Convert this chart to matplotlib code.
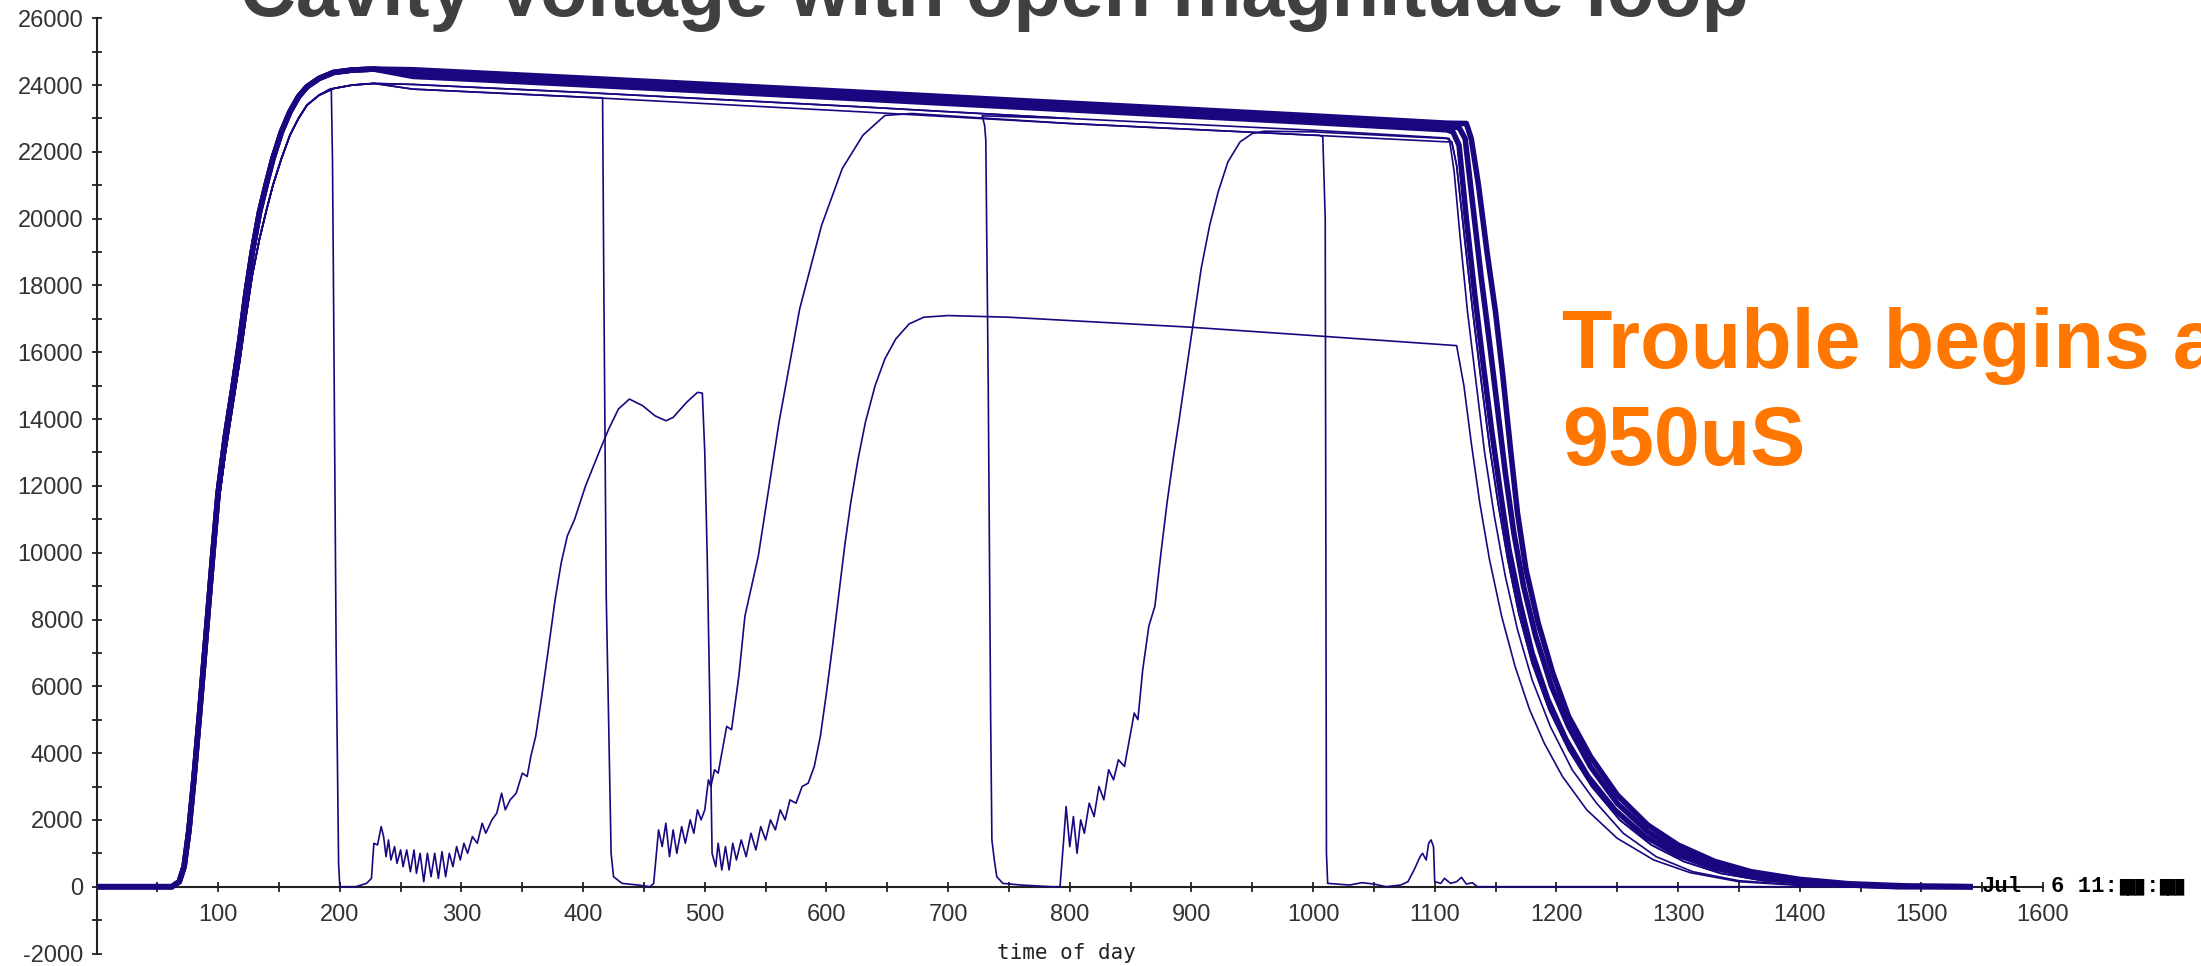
import matplotlib
matplotlib.use("Agg")
import matplotlib.pyplot as plt

plt.rcParams['font.family'] = ['Liberation Sans', 'DejaVu Sans']
plt.rcParams['axes.unicode_minus'] = False

# ---- data (x = time units, y = counts) ----
# common rise of the pulse
rise_x = [0, 62, 68, 72, 76, 80, 85, 90, 95, 100, 106, 112, 118, 123, 128, 134,
          140, 145, 152, 159, 166, 173, 183, 195, 210, 228]
rise_thick_y = [0, 0, 150, 600, 1700, 3200, 5300, 7500, 9700, 11800, 13500, 14900,
                16400, 17800, 19000, 20200, 21100, 21800, 22600, 23200, 23650, 23950,
                24200, 24380, 24450, 24480]
rise_thin_y = [0, 0, 120, 500, 1500, 2900, 5000, 7200, 9300, 11400, 13000, 14400,
               15800, 17100, 18300, 19400, 20300, 21000, 21800, 22500, 23000, 23400,
               23700, 23900, 24000, 24050]

# flat top of the thick bundle
band_x = [260, 400, 600, 800, 1000, 1110]
band1_y = [24460, 24210, 23840, 23460, 23080, 22860]
band2_y = [24360, 24110, 23740, 23360, 22980, 22760]
band3_y = [24260, 24010, 23640, 23260, 22880, 22660]

# the two thin lines under the bundle
levelA_x = [260, 400, 628, 800, 1000, 1108]
levelA_y = [24020, 23780, 23350, 23000, 22650, 22420]
levelB_x = [260, 400, 628, 800, 1000, 1108]
levelB_y = [23880, 23640, 23200, 22850, 22500, 22270]

# decays after the pulse
decay_r_x = [1126, 1130, 1136, 1143, 1150, 1156, 1162, 1168, 1175, 1185, 1197, 1210,
             1228, 1250, 1275, 1300, 1330, 1360, 1400, 1440, 1490, 1540]
decay_r_y = [22850, 22400, 21000, 19000, 17200, 15300, 13200, 11200, 9500, 7900, 6400,
             5100, 3900, 2750, 1850, 1250, 760, 450, 220, 90, 20, 0]
decay_m_x = [1120, 1125, 1131, 1138, 1145, 1152, 1158, 1165, 1173, 1183, 1196, 1210,
             1228, 1250, 1275, 1300, 1330, 1360, 1400, 1440, 1480, 1540]
decay_m_y = [22730, 22400, 20500, 18300, 16300, 14200, 12400, 10600, 9000, 7500, 6000,
             4800, 3600, 2500, 1650, 1100, 650, 380, 180, 60, 10, 0]
decay_l_x = [1115, 1120, 1126, 1133, 1140, 1147, 1154, 1161, 1170, 1180, 1193, 1208,
             1226, 1248, 1273, 1300, 1330, 1360, 1400, 1440, 1480, 1540]
decay_l_y = [22600, 22200, 20000, 17700, 15600, 13600, 11800, 10100, 8500, 7000, 5600,
             4400, 3300, 2300, 1500, 950, 560, 320, 140, 50, 0, 0]
decay_thin_x = [1112, 1116, 1121, 1127, 1134, 1141, 1149, 1158, 1168, 1180, 1195, 1213,
                1233, 1255, 1282, 1312, 1350, 1400, 1450, 1540]
decay_thin_y = [22400, 21400, 19400, 17200, 15100, 13000, 11100, 9300, 7700, 6200, 4800,
                3500, 2500, 1600, 900, 450, 180, 50, 0, 0]
decay_t6_x = [1114, 1118, 1124, 1131, 1138, 1145, 1152, 1160, 1169, 1180, 1194, 1210,
              1229, 1252, 1278, 1305, 1335, 1370, 1420, 1470, 1540]
decay_t6_y = [22300, 21600, 19600, 17300, 15200, 13200, 11500, 9800, 8200, 6700, 5300,
              4100, 3000, 2000, 1250, 750, 400, 180, 50, 0, 0]
decay_low_x = [1118, 1124, 1130, 1137, 1145, 1155, 1166, 1178, 1190, 1205, 1225, 1250,
               1280, 1310, 1350, 1400, 1450, 1540]
decay_low_y = [16200, 15000, 13300, 11500, 9800, 8100, 6600, 5300, 4300, 3300, 2300,
               1450, 800, 420, 150, 40, 0, 0]

# run that trips at ~200
t5_x = [190, 193, 194, 195, 197, 199, 200, 213, 222, 226, 228, 231, 234, 236, 238, 240,
        242, 245, 247, 250, 252, 255, 258, 261, 263, 266, 269, 272, 275, 278, 281, 284,
        287, 290, 293, 296, 299, 302, 305, 309, 313, 317, 320, 325, 329, 333, 336, 340,
        345, 350, 354, 357, 361, 366, 371, 377, 382, 387, 393, 402, 413, 421, 429, 438,
        449, 459, 468, 474, 485, 494, 498, 500, 502, 504, 506, 509, 511, 514, 517, 520,
        523, 526, 530, 534, 538, 542, 546, 550, 554, 558, 562, 566, 570, 575, 580, 585,
        590, 595, 600, 605, 610, 615, 620, 626, 632, 640, 648, 657, 668, 680, 700, 750,
        800, 900, 1000, 1110]
t5_y = [23850, 23900, 21700, 17000, 7000, 700, 0, 0, 100, 250, 1300, 1250, 1800, 1500,
        900, 1400, 800, 1200, 700, 1100, 600, 1100, 450, 1100, 400, 1000, 150, 1000, 300,
        1000, 250, 1050, 300, 1000, 600, 1200, 800, 1300, 1000, 1500, 1300, 1900, 1600,
        2000, 2200, 2800, 2300, 2600, 2800, 3400, 3300, 3900, 4500, 5700, 7000, 8600, 9700,
        10500, 11000, 12000, 13000, 13700, 14300, 14600, 14400, 14100, 13950, 14050, 14500,
        14800, 14780, 13000, 9900, 5800, 1000, 600, 1300, 500, 1200, 500, 1300, 800, 1400,
        900, 1600, 1100, 1800, 1400, 2000, 1700, 2300, 2000, 2600, 2500, 3000, 3100, 3600,
        4500, 5800, 7200, 8700, 10200, 11500, 12800, 13900, 15000, 15800, 16400, 16850,
        17050, 17100, 17050, 16950, 16750, 16500, 16220]

# run that trips at ~420
t6_x = [416, 417, 419, 421, 423, 425, 432, 445, 455, 458, 462, 465, 468, 471, 474, 477,
        481, 484, 488, 491, 494, 497, 500, 503, 505, 508, 511, 515, 518, 522, 528, 533,
        544, 561, 578, 596, 613, 630, 648, 670, 800, 1000, 1110]
t6_y = [23620, 18100, 8700, 4900, 1000, 300, 100, 50, 0, 100, 1700, 1200, 1900, 900,
        1700, 1000, 1800, 1300, 2000, 1600, 2300, 2000, 2300, 3200, 3000, 3500, 3400, 4200,
        4800, 4700, 6300, 8100, 9900, 13900, 17300, 19800, 21500, 22500, 23090, 23150,
        22850, 22500, 22300]

# run that trips at ~730
t7_x = [728, 730, 731, 733, 735, 736, 738, 740, 745, 760, 785, 792, 795, 797, 800, 803,
        806, 809, 812, 816, 820, 824, 828, 832, 836, 840, 845, 850, 853, 856, 860, 865,
        870, 875, 880, 885, 890, 896, 902, 908, 915, 922, 930, 940, 950, 960, 1000, 1110]
t7_y = [23080, 22800, 22350, 15000, 5000, 1400, 800, 300, 100, 50, 0, 0, 1400, 2400,
        1200, 2100, 1000, 2000, 1600, 2500, 2100, 3000, 2600, 3500, 3200, 3800, 3600,
        4600, 5200, 5000, 6500, 7800, 8400, 10000, 11500, 12800, 14000, 15500, 17000,
        18500, 19800, 20800, 21700, 22300, 22550, 22620, 22600, 22400]

# run that trips at ~1010
t8_x = [1005, 1008, 1010, 1011, 1012, 1030, 1040, 1050, 1060, 1072, 1078, 1083, 1088,
        1090, 1093, 1095, 1097, 1099, 1100, 1105, 1108, 1113, 1118, 1122, 1126, 1131,
        1135, 1540]
t8_y = [22500, 22450, 20000, 1000, 100, 50, 120, 80, 0, 50, 150, 500, 900, 1000, 800,
        1300, 1400, 1200, 150, 100, 250, 100, 150, 280, 80, 120, 0, 0]

# tick labels
xtick_vals = list(range(100, 1700, 100))
ytick_vals = list(range(-2000, 26001, 2000))

title = 'Cavity Voltage with open magnitude loop'
note_lines = ['Trouble begins at', '950uS']

# ---- figure ----
W, H = 2201, 966
fig = plt.figure(figsize=(W / 100, H / 100), dpi=100)
ax = fig.add_axes([96.5 / W, 1 - 953.5 / H, 1946.5 / W, (953.5 - 18.3) / H])
ax.set_xlim(0, 1600)
ax.set_ylim(-2000, 26000)

navy = '#1c0680'
thick = dict(color=navy, lw=4.0, zorder=3)
thin = dict(color=navy, lw=1.2, zorder=3)

# thick bundle of healthy pulses
ax.plot(rise_x + band_x + decay_r_x, rise_thick_y + band1_y + decay_r_y, **thick)
ax.plot(rise_x + band_x + decay_m_x, rise_thick_y + band2_y + decay_m_y, **thick)
ax.plot(rise_x + band_x + decay_l_x, rise_thick_y + band3_y + decay_l_y, **thick)

# thin full pulse
ax.plot(rise_x + levelA_x + decay_thin_x, rise_thin_y + levelA_y + decay_thin_y, **thin)

# tripped runs
ax.plot(rise_x[:23] + t5_x + decay_low_x, rise_thin_y[:23] + t5_y + decay_low_y, **thin)
ax.plot(rise_x + levelB_x[:2] + t6_x + decay_t6_x,
        rise_thin_y + levelB_y[:2] + t6_y + decay_t6_y, **thin)
ax.plot(rise_x + levelA_x[:4] + t7_x + decay_t6_x,
        rise_thin_y + levelA_y[:4] + t7_y + decay_t6_y, **thin)
ax.plot(rise_x + levelB_x[:5] + t8_x, rise_thin_y + levelB_y[:5] + t8_y, **thin)

# axes styling like the old scope screen
for s in ['top', 'right']:
    ax.spines[s].set_visible(False)
ax.spines['bottom'].set_position(('data', 0))
for s in ['left', 'bottom']:
    ax.spines[s].set_color('#222222')
    ax.spines[s].set_linewidth(1.5)

ax.set_xticks(xtick_vals)
ax.set_xticks(range(50, 1600, 100), minor=True)
ax.set_yticks(ytick_vals)
ax.set_yticks(range(-1000, 26000, 2000), minor=True)
ax.tick_params(which='both', direction='inout', length=7, width=1.3, color='#222222')
ax.tick_params(axis='x', pad=9, labelsize=17, labelcolor='#333333')
ax.tick_params(axis='y', pad=6, labelsize=17, labelcolor='#333333')

mono = ['Liberation Mono', 'DejaVu Sans Mono']
fig.text(1066 / W, 1 - 953 / H, 'time of day', ha='center', va='center',
         family=['DejaVu Sans Mono'], size=15, color='#222222')
fig.text(2002 / W, 1 - 887 / H, 'Jul', ha='center', va='center',
         family=mono, weight='bold', size=16)
fig.text(2051 / W, 1 - 887 / H, '6 11:', ha='left', va='center',
         family=mono, weight='bold', size=16)
fig.text(2146 / W, 1 - 887 / H, ':', ha='left', va='center',
         family=mono, weight='bold', size=16)
for bx in (2119, 2159):
    fig.text(bx / W, 1 - 887 / H, '\u2588\u2588\u2588', ha='left', va='center',
             family=['DejaVu Sans Mono'], size=10)

fig.text(240 / W, 1 - 16 / H, title, ha='left', va='baseline', size=55.8,
         weight='bold', color='#404040')
fig.text(1562 / W, 1 - 368 / H, note_lines[0], ha='left', va='baseline', size=59.5,
         weight='bold', color='#ff7700')
fig.text(1562 / W, 1 - 465 / H, note_lines[1], ha='left', va='baseline', size=59.5,
         weight='bold', color='#ff7700')

fig.savefig('out.png', dpi=100)
